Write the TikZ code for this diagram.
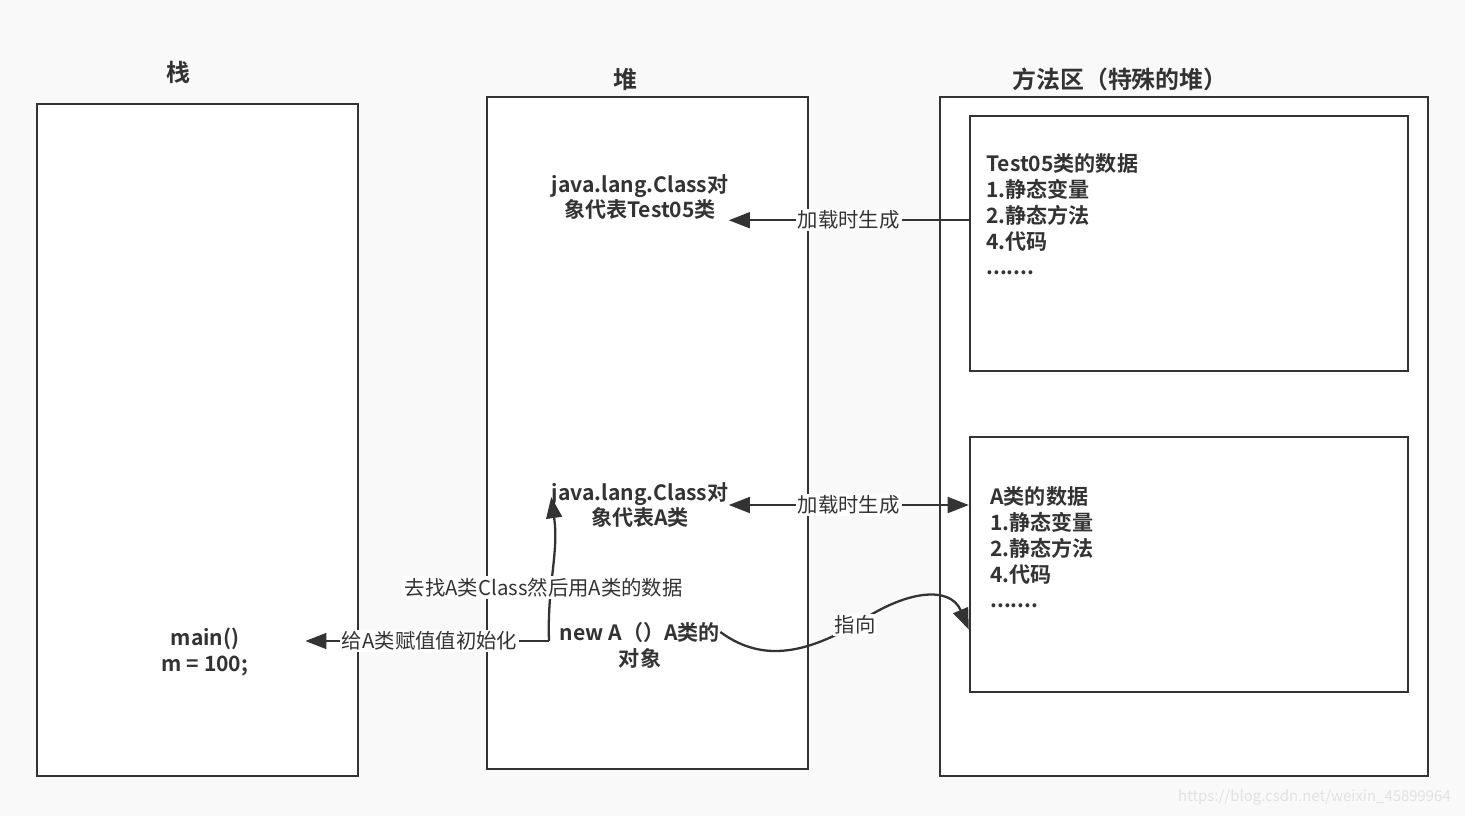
\documentclass[tikz,border=0pt]{standalone}
\usepackage{fontspec}
\setmainfont{Noto Sans CJK SC}[BoldFont={Noto Sans CJK SC Bold}]
\usetikzlibrary{arrows.meta}
\definecolor{ink}{RGB}{51,51,51}
\definecolor{paper}{RGB}{249,249,249}
\definecolor{mark}{RGB}{226,226,226}
\tikzstyle{every area} = []
\tikzstyle{area} = [draw=ink, line width=1.4pt, fill=white, rectangle, inner sep=0pt, every area]
\tikzstyle{link} = [draw=ink, line width=1.3pt, -{Triangle[length=12pt,width=9pt]}]

\begin{document}
\begin{tikzpicture}[x=0.02cm, y=-0.02cm]
    \tikzstyle{title} = [font=\bfseries\fontsize{13.6}{16}\selectfont, text=ink]
    \tikzstyle{info} = [font=\bfseries\fontsize{12}{14.75}\selectfont, text=ink, inner sep=0pt, align=center]
    \tikzstyle{data} = [info, align=left, anchor=north west]
    \tikzstyle{tag} = [font=\fontsize{11.6}{13}\selectfont, text=ink, fill=white, inner sep=1pt]
    \path[fill=paper, use as bounding box] (0,0) rectangle (1465,816);

    % the three memory areas
    \node[area, minimum width=6.42cm, minimum height=13.44cm] (stack) at (197.5,440) {};
    \node[area, minimum width=6.42cm, minimum height=13.44cm] (heap) at (647.5,433) {};
    \node[area, minimum width=9.76cm, minimum height=13.58cm] (method) at (1184,436.5) {};
    \node[title] (stacktitle) at (178,72) {栈};
    \node[title] (heaptitle) at (625,79) {堆};
    \node[title] (methodtitle) at (1120,79) {方法区（特殊的堆）};

    % class data in the method area
    \node[area, minimum width=8.76cm, minimum height=5.1cm] (dataTest) at (1189,243.5) {};
    \node[area, minimum width=8.76cm, minimum height=5.1cm] (dataA) at (1189,564.5) {};
    \node[data] (textTest) at (986,153) {Test05类的数据\\1.静态变量\\2.静态方法\\4.代码\\.......};
    \node[data] (textA) at (990,486) {A类的数据\\1.静态变量\\2.静态方法\\4.代码\\.......};

    % objects in the heap
    \node[info] (classT) at (640,197) {java.lang.Class对\\象代表Test05类};
    \node[info] (classA) at (640,505) {java.lang.Class对\\象代表A类};
    \node[info] (newA) at (640,645) {new A（）A类的\\对象};
    \node[info, minimum width=4cm] (main) at (205,652) {main()\\m = 100;};
    \coordinate (fork) at (549,641);

    \draw[link] (dataTest.west |- classT.south east) -- (classT.south east)
        node[tag, midway] {加载时生成};
    \draw[link, {Triangle[length=12pt,width=9pt]}-{Triangle[length=12pt,width=9pt]}]
        (classA.east) -- (dataA.west |- classA.east)
        node[tag, midway] {加载时生成};
    \draw[link] (fork) -- (fork -| main.east)
        node[tag, pos=0.49] {给A类赋值值初始化};
    \draw[link] (fork) to[out=92, in=-82] node[tag, pos=0.36, xshift=-0.14cm] {去找A类Class然后用A类的数据} ([yshift=0.16cm]classA.west);
    \draw[link] ([yshift=0.26cm]newA.east) .. controls (765,665) and (810,650) .. (855,625)
        node[tag] {指向}
        .. controls (905,590) and (950,585) .. ([yshift=-1.3cm]dataA.west);

    \node[text=mark, font=\fontsize{8.5}{10}\selectfont, anchor=east] (watermark) at (1457,797) {https://blog.csdn.net/weixin\_45899964};
\end{tikzpicture}
\end{document}
